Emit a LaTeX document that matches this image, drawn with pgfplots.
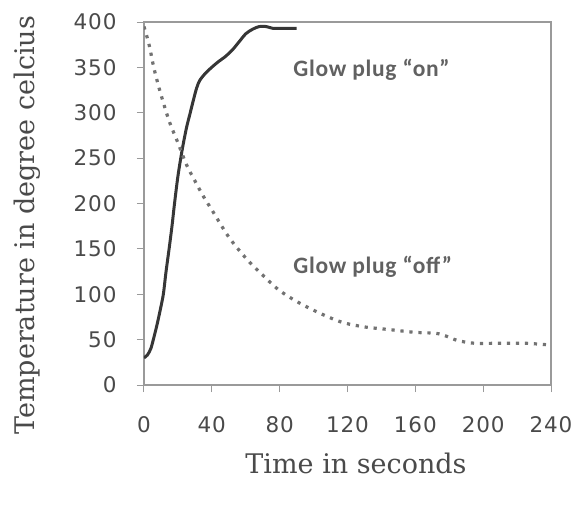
\documentclass[border=0pt]{standalone}
\usepackage{pgfplots}
\pgfplotsset{compat=1.18}
\usepackage{fontspec}
\setmainfont{DejaVu Serif}
\newfontfamily\tickfont[LetterSpace=4]{DejaVu Sans}
\newfontfamily\annfont[LetterSpace=3]{Carlito}
\definecolor{axisgray}{HTML}{9A9A9A}
\definecolor{labgray}{HTML}{4A4A4A}
\definecolor{oncol}{HTML}{363636}
\definecolor{offcol}{HTML}{727272}
\begin{document}
\begin{tikzpicture}
\useasboundingbox (-144pt,-122pt) rectangle (429pt,385pt);
\begin{axis}[
    scale only axis,
    width=407pt, height=363pt,
    xmin=0, xmax=240, ymin=0, ymax=400,
    xtick={0,40,...,240},
    ytick={0,50,...,400},
    xtick pos=bottom, ytick pos=left,
    tick align=outside,
    major tick length=7pt,
    axis line style={draw=axisgray, line width=1.3pt},
    every tick/.style={draw=axisgray, line width=1pt},
    ticklabel style={font=\tickfont\fontsize{21.5}{25}\selectfont, text=labgray},
    /pgf/number format/assume math mode=true,
    xticklabel style={anchor=north, yshift=-21pt},
    yticklabel style={anchor=east, xshift=-17pt},
    xlabel={Time in seconds},
    ylabel={Temperature in degree celcius},
    label style={font=\fontsize{27}{32}\selectfont, text=labgray},
    xlabel style={at={(axis description cs:0.521,-0.215)}, anchor=center},
    ylabel style={at={(axis description cs:-0.2875,0.44)}, anchor=center},
]
% Glow plug "on"
\addplot[oncol, line width=3pt, smooth] coordinates {
(0,30) (2,33) (4,40) (5.5,50) (7.5,65) (9.5,82) (11.4,100) (13,125)
(14.8,150) (16.5,175) (18,200) (20,230) (22.5,259) (25,283) (27,298)
(29,313) (31,327) (33,336) (37,345) (43,355) (48,362) (52,369)
(56,378) (60,387) (64,392) (68,395) (72,395) (76,393) (80,393)
(85,393) (90,393)
};
% Glow plug "off"
\addplot[offcol, line width=3.2pt, dash pattern=on 3.2pt off 5.8pt, smooth] coordinates {
(0,395) (3,375) (6,348) (10,320) (15,290) (20,267) (25,243) (30,225)
(35,208) (40,193) (50,163) (60,140) (70,121) (80,104) (92,90)
(105,78) (117,69) (130,64) (145,61) (160,58) (172,57) (178,54)
(185,49) (195,46) (210,46) (225,46) (240,44)
};
\node[anchor=west, font=\annfont\bfseries\fontsize{23.5}{27}\selectfont, text=offcol!85!black] at (axis cs:86,347) {Glow plug “on”};
\node[anchor=west, font=\annfont\bfseries\fontsize{23.5}{27}\selectfont, text=offcol!85!black] at (axis cs:86,130) {Glow plug “off”};
\end{axis}
\end{tikzpicture}
\end{document}
